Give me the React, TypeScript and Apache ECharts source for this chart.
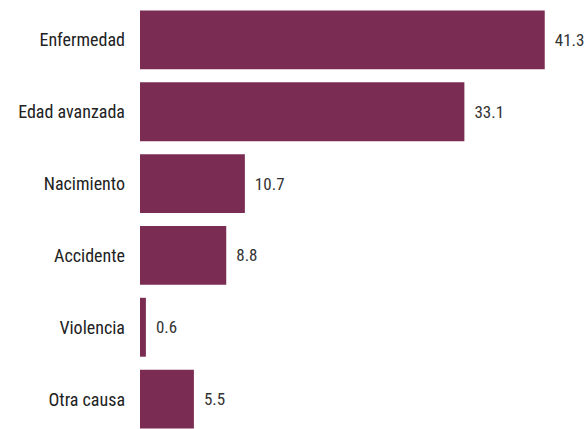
import React, { useEffect, useRef } from "react";
import * as echarts from "echarts";

const categories = ["Enfermedad", "Edad avanzada", "Nacimiento", "Accidente", "Violencia", "Otra causa"];
const values = [41.3, 33.1, 10.7, 8.8, 0.6, 5.5];

const FONT = "'Liberation Sans Narrow', 'Arial Narrow', 'Roboto Condensed', sans-serif";

export default function App() {
  const ref = useRef<HTMLDivElement>(null);
  useEffect(() => {
    if (!ref.current) return;
    const chart = echarts.init(ref.current, null, { renderer: "svg" });
    chart.setOption({
      animation: false,
      backgroundColor: "#ffffff",
      grid: {
        left: 140,
        top: 4,
        width: 490,
        height: 431,
        containLabel: false,
        outerBoundsMode: "none",
      },
      xAxis: {
        type: "value",
        min: 0,
        max: 50,
        show: false,
      },
      yAxis: {
        type: "category",
        inverse: true,
        data: categories,
        axisLine: { show: false },
        axisTick: { show: false },
        axisLabel: {
          margin: 15,
          fontFamily: FONT,
          fontSize: 18,
          color: "#222222",
        },
      },
      series: [
        {
          type: "bar",
          data: values,
          barCategoryGap: "18%",
          itemStyle: { color: "#7b2c52" },
          label: {
            show: true,
            position: "right",
            distance: 10,
            fontFamily: FONT,
            fontSize: 17,
            color: "#333333",
          },
        },
      ],
    });
    return () => chart.dispose();
  }, []);
  return (
    <div
      ref={ref}
      style={{ position: "fixed", left: 0, top: 0, width: 588, height: 429 }}
    />
  );
}
